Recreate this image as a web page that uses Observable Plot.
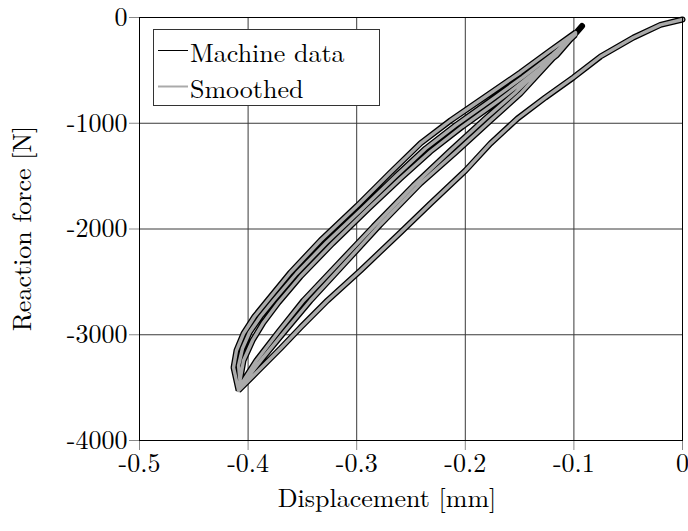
<!DOCTYPE html>
<html><head><meta charset="utf-8">
<script src="https://cdn.jsdelivr.net/npm/d3@7"></script>
<script src="https://cdn.jsdelivr.net/npm/@observablehq/plot@0.6"></script>
<style>
html,body{margin:0;padding:0;background:#fff;}
#chart svg{display:block;}
</style></head><body><div id="chart"></div>
<script>
// ---- axis ticks ----
const xTicks = [-0.5, -0.4, -0.3, -0.2, -0.1, 0];
const yTicks = [-4000, -3000, -2000, -1000, 0];

// ---- branches (displacement mm, reaction force N) ----
const loadX = [0.0, -0.0203, -0.0451, -0.0755, -0.1004, -0.1262, -0.1519, -0.1768, -0.1998, -0.232, -0.2597, -0.2965, -0.3269, -0.3517, -0.3702, -0.3904, -0.4088];
const loadF = [-19, -70, -189, -369, -567, -756, -955, -1191, -1447, -1759, -2033, -2392, -2676, -2931, -3130, -3338, -3527];

const unload1X = [-0.4088, -0.4134, -0.4107, -0.4042, -0.3941, -0.3821, -0.361, -0.3333, -0.2993, -0.2689, -0.2413, -0.2136, -0.1814, -0.1492, -0.1215, -0.0985];
const unload1F = [-3527, -3310, -3149, -2988, -2827, -2676, -2411, -2109, -1778, -1466, -1191, -974, -747, -520, -312, -142];

const reload1X = [-0.0985, -0.1169, -0.1492, -0.1768, -0.209, -0.2413, -0.2781, -0.3103, -0.3425, -0.3656, -0.3867, -0.407];
const reload1F = [-142, -359, -719, -974, -1277, -1570, -1957, -2317, -2676, -2960, -3224, -3489];

const unload2X = [-0.407, -0.4088, -0.4052, -0.3987, -0.3886, -0.3766, -0.3554, -0.3278, -0.2947, -0.2643, -0.2366, -0.209, -0.1768, -0.1473, -0.1197, -0.0985];
const unload2F = [-3489, -3291, -3130, -2979, -2827, -2676, -2421, -2128, -1806, -1504, -1239, -1021, -785, -567, -350, -161];

const reload2X = [-0.0985, -0.1197, -0.1538, -0.1814, -0.2136, -0.2477, -0.2845, -0.3168, -0.349, -0.3711, -0.3923, -0.4088];
const reload2F = [-161, -369, -709, -955, -1258, -1589, -1976, -2326, -2676, -2960, -3243, -3508];

const unload3X = [-0.4088, -0.4042, -0.3959, -0.3858, -0.372, -0.3517, -0.3223, -0.2891, -0.2597, -0.232, -0.2026, -0.1703, -0.1418, -0.116, -0.0985];
const unload3F = [-3508, -3243, -3054, -2884, -2695, -2449, -2137, -1806, -1522, -1267, -1031, -794, -567, -359, -151];

// small end hook present only in the raw machine record
const hookX = [-0.0925];
const hookF = [-80];

const legendLabels = ["Machine data", "Smoothed"];
const seriesColors = ["#000000", "#aaaaaa"];

// ---- build tables ----
const branches = [[loadX, loadF], [unload1X, unload1F], [reload1X, reload1F], [unload2X, unload2F], [reload2X, reload2F], [unload3X, unload3F]];
const smoothed = [];
branches.forEach(([xs, fs]) => xs.forEach((x, i) => smoothed.push({x, f: fs[i]})));
const machine = smoothed.slice();
hookX.forEach((x, i) => machine.push({x, f: hookF[i]}));

const W = 688, H = 531;
const mL = 139, mR = 6, mT = 17, mB = 91;
const font = "Latin Modern Roman, Liberation Serif, serif";
const fs = 26;

const chart = Plot.plot({
  width: W, height: H,
  marginLeft: mL, marginRight: mR, marginTop: mT, marginBottom: mB,
  style: `font-family: ${font}; font-size: ${fs}px; background: white; color: black; overflow: visible;`,
  x: {domain: [-0.5, 0]},
  y: {domain: [-4000, 0]},
  marks: [
    Plot.gridX(xTicks, {stroke: "#3a3a3a", strokeOpacity: 1, strokeWidth: 1}),
    Plot.gridY(yTicks, {stroke: "#3a3a3a", strokeOpacity: 1, strokeWidth: 1}),
    Plot.axisX(xTicks, {tickSize: 10, tickPadding: 3, stroke: "#888", tickFormat: d => String(d), label: null, fontSize: fs}),
    Plot.axisY(yTicks, {tickSize: 10, tickPadding: 2, stroke: "#888", tickFormat: d => String(d), label: null, fontSize: fs}),
    Plot.line(machine, {x: "x", y: "f", stroke: seriesColors[0], strokeWidth: 6, strokeLinejoin: "miter"}),
    Plot.line(smoothed, {x: "x", y: "f", stroke: seriesColors[1], strokeWidth: 3.4}),
    Plot.frame({stroke: "black", strokeWidth: 1})
  ]
});

const svg = d3.select(chart);
// axis titles
svg.append("text").attr("x", 387).attr("y", 507).attr("text-anchor", "middle")
  .attr("fill", "black").text("Displacement [mm]");
svg.append("text").attr("transform", `translate(31, ${(mT + H - mB) / 2}) rotate(-90)`).attr("text-anchor", "middle")
  .attr("fill", "black").text("Reaction force [N]");

// legend
const lg = svg.append("g");
lg.append("rect").attr("x", 153.5).attr("y", 29.5).attr("width", 226).attr("height", 76)
  .attr("fill", "white").attr("stroke", "#333").attr("stroke-width", 1);
legendLabels.forEach((lab, i) => {
  const yy = 50.5 + i * 36;
  lg.append("line").attr("x1", 158).attr("x2", 188).attr("y1", yy).attr("y2", yy)
    .attr("stroke", seriesColors[i]).attr("stroke-width", i === 0 ? 1 : 2);
  lg.append("text").attr("x", 190).attr("y", yy + 11).attr("text-anchor", "start")
    .attr("fill", "black").text(lab);
});

svg.selectAll("text").style("font-family", font).style("font-size", fs + "px");

document.getElementById("chart").appendChild(chart);
</script></body></html>
